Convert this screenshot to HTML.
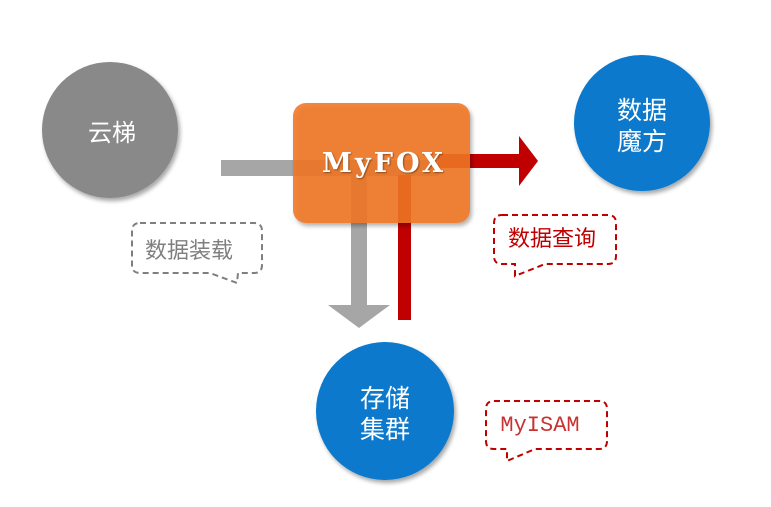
<!DOCTYPE html>
<html>
<head>
<meta charset="utf-8">
<style>
html,body{margin:0;padding:0;background:#fff;}
body{width:771px;height:507px;overflow:hidden;}
svg{display:block;}
</style>
</head>
<body>
<svg width="771" height="507" viewBox="0 0 771 507" xmlns="http://www.w3.org/2000/svg">
  <defs>
    <filter id="sh" x="-20%" y="-20%" width="150%" height="150%">
      <feGaussianBlur in="SourceAlpha" stdDeviation="2"/>
      <feOffset dx="2" dy="3" result="o"/>
      <feComponentTransfer><feFuncA type="linear" slope="0.35"/></feComponentTransfer>
      <feMerge><feMergeNode/><feMergeNode in="SourceGraphic"/></feMerge>
    </filter>
    <filter id="tsh" x="-10%" y="-20%" width="130%" height="150%">
      <feGaussianBlur in="SourceAlpha" stdDeviation="0.8"/>
      <feOffset dx="1" dy="1" result="o"/>
      <feComponentTransfer><feFuncA type="linear" slope="0.4"/></feComponentTransfer>
      <feMerge><feMergeNode/><feMergeNode in="SourceGraphic"/></feMerge>
    </filter>
  </defs>

  <!-- circles -->
  <circle cx="110" cy="130" r="68" fill="#898989" filter="url(#sh)"/>
  <circle cx="642" cy="123" r="68" fill="#0779CC" filter="url(#sh)"/>
  <circle cx="385" cy="411" r="69" fill="#0779CC" filter="url(#sh)"/>

  <g font-family="'Liberation Sans','Noto Sans CJK SC',sans-serif" fill="#fff" text-anchor="middle">
    <text x="112" y="141" font-size="24">云梯</text>
    <text x="642" y="119" font-size="25">数据</text>
    <text x="642" y="150" font-size="25">魔方</text>
    <text x="385" y="407" font-size="25">存储</text>
    <text x="385" y="438" font-size="25">集群</text>
  </g>

  <!-- bars / arrows -->
  <rect x="221" y="160" width="218" height="16" fill="#A6A6A6"/>
  <rect x="438" y="154" width="82" height="14" fill="#C00000"/>
  <polygon points="519,136 538,161 519,186" fill="#C00000"/>
  <rect x="351" y="175" width="16" height="131" fill="#A6A6A6"/>
  <polygon points="328,305 390,305 359,328" fill="#A6A6A6"/>
  <rect x="398" y="175" width="13" height="145" fill="#C00000"/>

  <!-- orange box -->
  <rect x="293" y="103" width="177" height="120" rx="13" ry="13" fill="#F07624" fill-opacity="0.88" filter="url(#sh)"/>
  <text x="322" y="172" font-family="'DejaVu Serif',serif" font-weight="bold" font-size="27" fill="#fff" textLength="121" lengthAdjust="spacing" filter="url(#tsh)">MyFOX</text>

  <!-- callouts -->
  <path d="M140,223 H254 Q262,223 262,231 V265 Q262,273 254,273 H238 L237,283 L210,273 H140 Q132,273 132,265 V231 Q132,223 140,223 Z"
        fill="none" stroke="#7F7F7F" stroke-width="2" stroke-dasharray="6,4"/>
  <text x="189" y="258" font-family="'Liberation Sans','Noto Sans CJK SC',sans-serif" font-size="22" fill="#7F7F7F" text-anchor="middle">数据装载</text>

  <path d="M502,215 H608 Q616,215 616,223 V256 Q616,264 608,264 H545 L515,276 L515,264 H502 Q494,264 494,256 V223 Q494,215 502,215 Z"
        fill="none" stroke="#C00000" stroke-width="2" stroke-dasharray="6,4"/>
  <text x="552" y="246" font-family="'Liberation Sans','Noto Sans CJK SC',sans-serif" font-size="22" fill="#C00000" text-anchor="middle">数据查询</text>

  <path d="M494,401 H599 Q607,401 607,409 V441 Q607,449 599,449 H535 L507,461 L507,449 H494 Q486,449 486,441 V409 Q486,401 494,401 Z"
        fill="none" stroke="#C00000" stroke-width="2" stroke-dasharray="6,4"/>
  <text x="540" y="431" font-family="'Liberation Mono',monospace" font-size="22" fill="#C83232" text-anchor="middle">MyISAM</text>
</svg>
</body>
</html>
